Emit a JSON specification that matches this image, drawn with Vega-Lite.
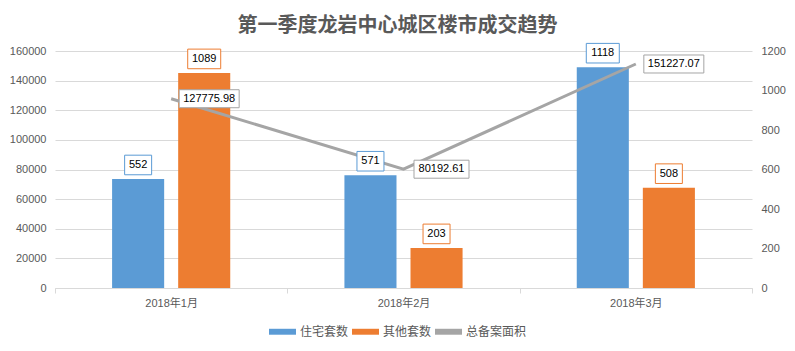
{
  "$schema": "https://vega.github.io/schema/vega-lite/v6.json",
  "width": 697,
  "height": 237,
  "padding": {"left": 9, "top": 16, "right": 5, "bottom": 5},
  "background": "white",
  "title": {
    "text": "第一季度龙岩中心城区楼市成交趋势",
    "font": "Noto Sans CJK SC",
    "fontSize": 20,
    "fontWeight": "bold",
    "color": "#595959",
    "anchor": "middle",
    "frame": "bounds",
    "offset": 5
  },
  "datasets": {
    "bars": [
      {"month": "2018年1月", "series": "住宅套数", "count": 552},
      {"month": "2018年1月", "series": "其他套数", "count": 1089},
      {"month": "2018年2月", "series": "住宅套数", "count": 571},
      {"month": "2018年2月", "series": "其他套数", "count": 203},
      {"month": "2018年3月", "series": "住宅套数", "count": 1118},
      {"month": "2018年3月", "series": "其他套数", "count": 508}
    ],
    "line": [
      {"month": "2018年1月", "series": "总备案面积", "area": 127775.98},
      {"month": "2018年2月", "series": "总备案面积", "area": 80192.61},
      {"month": "2018年3月", "series": "总备案面积", "area": 151227.07}
    ]
  },
  "encoding": {
    "x": {
      "field": "month",
      "type": "nominal",
      "sort": null,
      "scale": {"paddingInner": 0, "paddingOuter": 0},
      "axis": {
        "title": null,
        "labelAngle": 0,
        "tickBand": "extent",
        "domainColor": "#D9D9D9",
        "tickColor": "#D9D9D9",
        "tickSize": 5,
        "labelColor": "#595959",
        "labelFont": "Liberation Sans, Noto Sans CJK SC",
        "labelFontSize": 11,
        "labelPadding": 4,
        "grid": false
      }
    }
  },
  "layer": [
    {
      "data": {"name": "bars"},
      "mark": {"type": "bar"},
      "encoding": {
        "y": {
          "field": "count",
          "type": "quantitative",
          "scale": {"domain": [0, 1200], "nice": false},
          "axis": {
            "orient": "right",
            "title": null,
            "domain": false,
            "ticks": false,
            "grid": false,
            "labelColor": "#595959",
            "labelFont": "Liberation Sans",
            "labelFontSize": 11,
            "labelPadding": 9,
            "values": [0, 200, 400, 600, 800, 1000, 1200],
            "format": "d"
          }
        },
        "xOffset": {
          "field": "series",
          "type": "nominal",
          "sort": ["住宅套数", "其他套数"],
          "scale": {"paddingInner": 0.212, "paddingOuter": 0.864}
        },
        "color": {
          "field": "series",
          "type": "nominal",
          "scale": {
            "domain": ["住宅套数", "其他套数", "总备案面积"],
            "range": ["#5B9BD5", "#ED7D31", "#A5A5A5"]
          },
          "legend": {
            "orient": "none",
            "legendX": 214,
            "legendY": 267,
            "direction": "horizontal",
            "title": null,
            "symbolType": "M-1,-0.22L1,-0.22L1,0.22L-1,0.22Z",
            "symbolSize": 729,
            "symbolStrokeWidth": 0,
            "labelFont": "Noto Sans CJK SC",
            "labelFontSize": 12,
            "labelColor": "#595959",
            "columnPadding": 3,
            "labelOffset": 4
          }
        }
      }
    },
    {
      "data": {"name": "line"},
      "mark": {"type": "line", "strokeWidth": 3},
      "encoding": {
        "y": {
          "field": "area",
          "type": "quantitative",
          "scale": {"domain": [0, 160000], "nice": false},
          "axis": {
            "orient": "left",
            "title": null,
            "domain": false,
            "ticks": false,
            "grid": true,
            "gridColor": "#D9D9D9",
            "labelColor": "#595959",
            "labelFont": "Liberation Sans",
            "labelFontSize": 11,
            "labelPadding": 9,
            "values": [0, 20000, 40000, 60000, 80000, 100000, 120000, 140000, 160000],
            "format": "d"
          }
        },
        "color": {"datum": "总备案面积", "type": "nominal"}
      }
    },
    {
      "data": {"name": "bars"},
      "mark": {"type": "point", "filled": true, "fill": "white", "opacity": 1, "size": 400, "strokeWidth": 1, "yOffset": -14},
      "encoding": {
        "y": {"field": "count", "type": "quantitative", "scale": {"domain": [0, 1200], "nice": false}, "axis": null},
        "xOffset": {"field": "series", "type": "nominal", "sort": ["住宅套数", "其他套数"]},
        "stroke": {
          "field": "series",
          "type": "nominal",
          "scale": {"domain": ["住宅套数", "其他套数"], "range": ["#5B9BD5", "#ED7D31"]},
          "legend": null
        },
        "shape": {
          "condition": {"test": "datum.count >= 1000", "value": "M-1.65,-0.98L1.65,-0.98L1.65,0.98L-1.65,0.98Z"},
          "value": "M-1.35,-0.98L1.35,-0.98L1.35,0.98L-1.35,0.98Z"
        }
      }
    },
    {
      "data": {"name": "bars"},
      "mark": {"type": "text", "dy": -14, "font": "Liberation Sans", "fontSize": 11, "color": "#000000", "baseline": "middle", "align": "center"},
      "encoding": {
        "y": {"field": "count", "type": "quantitative", "scale": {"domain": [0, 1200], "nice": false}, "axis": null},
        "xOffset": {"field": "series", "type": "nominal", "sort": ["住宅套数", "其他套数"]},
        "text": {"field": "count", "type": "quantitative", "format": "d"}
      }
    },
    {
      "data": {"name": "line"},
      "mark": {"type": "point", "filled": true, "fill": "white", "stroke": "#A5A5A5", "opacity": 1, "size": 400, "strokeWidth": 1, "xOffset": 38},
      "encoding": {
        "y": {"field": "area", "type": "quantitative", "scale": {"domain": [0, 160000], "nice": false}, "axis": null},
        "shape": {
          "condition": {"test": "datum.area >= 100000", "value": "M-3.0,-0.9L3.0,-0.9L3.0,0.9L-3.0,0.9Z"},
          "value": "M-2.75,-0.9L2.75,-0.9L2.75,0.9L-2.75,0.9Z"
        }
      }
    },
    {
      "data": {"name": "line"},
      "mark": {"type": "text", "dx": 38, "font": "Liberation Sans", "fontSize": 11, "color": "#000000", "baseline": "middle", "align": "center"},
      "encoding": {
        "y": {"field": "area", "type": "quantitative", "scale": {"domain": [0, 160000], "nice": false}, "axis": null},
        "text": {"field": "area", "type": "quantitative", "format": ".2f"}
      }
    }
  ],
  "resolve": {"scale": {"y": "independent"}},
  "config": {
    "view": {"stroke": null}
  }
}
